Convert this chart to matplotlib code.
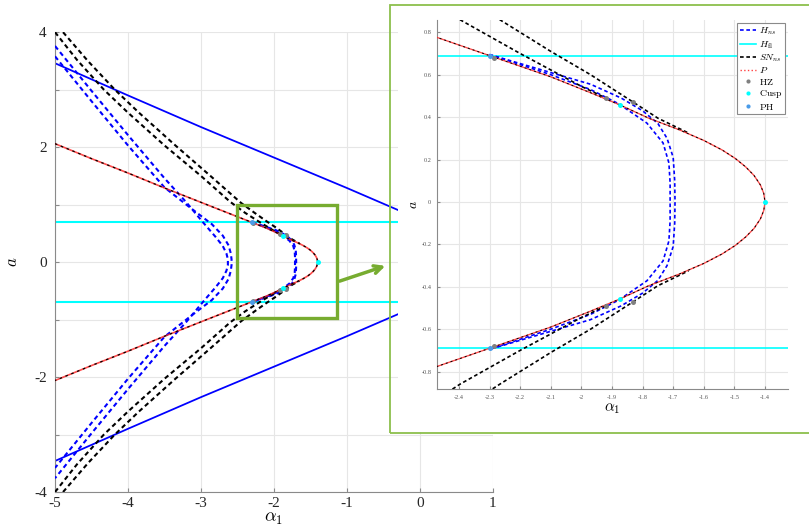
import matplotlib.pyplot as plt
from matplotlib.patches import Rectangle
from matplotlib.lines import Line2D

plt.rcParams['font.family'] = ['Liberation Serif', 'DejaVu Serif']
plt.rcParams['mathtext.fontset'] = 'cm'
plt.rcParams['axes.unicode_minus'] = False

# ---- curves (alpha_1, a) ----
# P curve (goes round the vertex at alpha_1 = -1.4)
p_alpha = [-5.0, -4.5, -4.0, -3.5, -3.0, -2.5, -2.3, -2.1, -1.97, -1.875, -1.78, -1.68,
           -1.60, -1.54, -1.497, -1.463, -1.436, -1.415, -1.404, -1.40,
           -1.404, -1.415, -1.436, -1.463, -1.497, -1.54, -1.60, -1.68, -1.78, -1.875,
           -1.97, -2.1, -2.3, -2.5, -3.0, -3.5, -4.0, -4.5, -5.0]
p_a = [2.06, 1.80, 1.55, 1.29, 1.04, 0.79, 0.69, 0.59, 0.515, 0.458, 0.395, 0.34,
       0.29, 0.245, 0.205, 0.165, 0.125, 0.08, 0.04, 0.0,
       -0.04, -0.08, -0.125, -0.165, -0.205, -0.245, -0.29, -0.34, -0.395, -0.458,
       -0.515, -0.59, -0.69, -0.79, -1.04, -1.29, -1.55, -1.80, -2.06]

# SN_ns tangent branches (upper and lower)
sn_a_alpha = [-5.0, -4.7, -4.33, -4.0, -3.5, -3.0, -2.6, -2.395, -2.2, -2.0, -1.92]
sn_a_up = [4.0, 3.52, 3.0, 2.6, 2.03, 1.5, 1.05, 0.858, 0.70, 0.545, 0.49]
sn_a_lo = [-4.0, -3.52, -3.0, -2.6, -2.03, -1.5, -1.05, -0.858, -0.70, -0.545, -0.49]
sn_b_alpha = [-4.89, -4.55, -4.18, -3.85, -3.35, -2.87, -2.45, -2.265, -2.1, -1.97, -1.83, -1.75, -1.65]
sn_b_up = [4.0, 3.5, 3.0, 2.6, 2.03, 1.5, 1.03, 0.858, 0.71, 0.60, 0.47, 0.395, 0.325]
sn_b_lo = [-4.0, -3.5, -3.0, -2.6, -2.03, -1.5, -1.03, -0.858, -0.71, -0.60, -0.47, -0.395, -0.325]

# H_ns outer branches
h1_alpha = [-5.0, -4.5, -4.0, -3.5, -3.2, -2.97, -2.80, -2.70, -2.65, -2.63, -2.63,
            -2.63, -2.65, -2.70, -2.80, -2.97, -3.2, -3.5, -4.0, -4.5, -5.0]
h1_a = [3.76, 2.98, 2.21, 1.46, 1.04, 0.69, 0.44, 0.28, 0.15, 0.05, 0.0,
        -0.05, -0.15, -0.28, -0.44, -0.69, -1.04, -1.46, -2.21, -2.98, -3.76]
h2_alpha = [-5.0, -4.5, -4.0, -3.5, -3.15, -2.85, -2.70, -2.62, -2.59, -2.58, -2.58,
            -2.58, -2.59, -2.62, -2.70, -2.85, -3.15, -3.5, -4.0, -4.5, -5.0]
h2_a = [3.58, 2.80, 2.03, 1.30, 0.95, 0.66, 0.46, 0.29, 0.15, 0.05, 0.0,
        -0.05, -0.15, -0.29, -0.46, -0.66, -0.95, -1.30, -2.03, -2.80, -3.58]

# H_ns inner branches
h3_alpha = [-2.30, -2.1, -1.97, -1.877, -1.786, -1.733, -1.714, -1.71, -1.71,
            -1.71, -1.714, -1.733, -1.786, -1.877, -1.97, -2.1, -2.30]
h3_a = [0.695, 0.60, 0.53, 0.462, 0.372, 0.278, 0.184, 0.09, 0.0,
        -0.09, -0.184, -0.278, -0.372, -0.462, -0.53, -0.60, -0.695]
h4_alpha = [-2.30, -2.1, -1.97, -1.87, -1.80, -1.75, -1.72, -1.70, -1.695, -1.694,
            -1.695, -1.70, -1.72, -1.75, -1.80, -1.87, -1.97, -2.1, -2.30]
h4_a = [0.695, 0.61, 0.555, 0.49, 0.43, 0.37, 0.30, 0.21, 0.10, 0.0,
        -0.10, -0.21, -0.30, -0.37, -0.43, -0.49, -0.555, -0.61, -0.695]

# H_fl lines
hfl_a = [0.69, -0.69]
# blue solid lines
bs_alpha = [-5.0, -4.0, -3.0, -2.0, -1.0, -0.25]
bs_up = [3.46, 2.90, 2.35, 1.82, 1.29, 0.88]
bs_lo = [-3.46, -2.90, -2.35, -1.82, -1.29, -0.88]

# special points
hz_alpha = [-2.285, -1.92, -1.83, -2.285, -1.92, -1.83]
hz_a = [0.68, 0.49, 0.47, -0.68, -0.49, -0.47]
cusp_alpha = [-1.875, -1.875, -1.40]
cusp_a = [0.458, -0.458, 0.0]
ph_alpha = [-2.30, -2.30]
ph_a = [0.69, -0.69]

green = '#77AC30'
ph_col = '#4a9be8'
dash = (2.2, 1.6)


def draw_curves(ax, lw):
    for y in [bs_up, bs_lo]:
        ax.plot(bs_alpha, y, color='#0000ff', lw=lw * 0.85, zorder=2)
    for y in hfl_a:
        ax.axhline(y, color='#00ffff', lw=lw, zorder=2)
    for xs, ys in [(h1_alpha, h1_a), (h2_alpha, h2_a), (h3_alpha, h3_a), (h4_alpha, h4_a)]:
        ax.plot(xs, ys, color='#0000ff', lw=lw, ls=(0, dash), zorder=3)
    for xs, ys in [(sn_a_alpha, sn_a_up), (sn_a_alpha, sn_a_lo),
                   (sn_b_alpha, sn_b_up), (sn_b_alpha, sn_b_lo)]:
        ax.plot(xs, ys, color='black', lw=lw, ls=(0, dash), zorder=3)
    ax.plot(p_alpha, p_a, color='#ff2020', lw=lw * 0.8, ls='-', alpha=0.8, zorder=4)
    ax.plot(p_alpha, p_a, color='black', lw=lw * 0.6, ls=(0, (2, 3)), zorder=4)
    ax.plot(hz_alpha, hz_a, 'o', color='#808080', ms=3.6, mec='none', zorder=5)
    ax.plot(cusp_alpha, cusp_a, 'o', color='#00ffff', ms=3.6, mec='none', zorder=6)
    ax.plot(ph_alpha, ph_a, 'o', color=ph_col, ms=3.6, mec='none', zorder=5)


def style(ax, tick_size):
    for s in ['top', 'right']:
        ax.spines[s].set_visible(False)
    for s in ['left', 'bottom']:
        ax.spines[s].set_color('#8a8a8a')
    ax.grid(True, color='#e6e6e6', lw=0.8)
    ax.set_axisbelow(True)
    ax.tick_params(direction='in', colors='#8a8a8a', labelcolor='#262626',
                   labelsize=tick_size, length=3)


fig = plt.figure(figsize=(8.09, 5.31), dpi=100)

# main axes
ax = fig.add_axes([0.068, 0.0734, 0.541, 0.866])
draw_curves(ax, 1.5)
ax.set_xlim(-5, 1)
ax.set_ylim(-4, 4)
ax.set_xticks(range(-5, 2))
ax.set_yticks(range(-4, 5))
ax.set_yticklabels([str(v) if v % 2 == 0 else '' for v in range(-4, 5)])
style(ax, 11)
ax.tick_params(axis='y', pad=6)
ax.set_xlabel(r'$\alpha_1$', fontsize=13, labelpad=0)
ax.set_ylabel(r'$a$', fontsize=12, labelpad=9)
ax.add_patch(Rectangle((-2.51, -0.97), 1.37, 1.96, fill=False,
                       edgecolor=green, lw=2.4, zorder=7))
ax.annotate('', xy=(388 / 809, 1 - 265 / 531), xytext=(337 / 809, 1 - 282 / 531),
            xycoords='figure fraction', textcoords='figure fraction',
            arrowprops=dict(arrowstyle='->', color=green, lw=2.5, mutation_scale=14),
            annotation_clip=False, zorder=8)

# white panel and border of the zoomed view
fig.patches.append(Rectangle((398 / 809, 99 / 531), 411 / 809, 426 / 531,
                             transform=fig.transFigure, facecolor='white',
                             edgecolor='none', zorder=1))
fig.patches.append(Rectangle((390 / 809, 98 / 531), 0.53, 428 / 531,
                             transform=fig.transFigure, facecolor='none',
                             edgecolor='#8cbf4c', lw=1.3, zorder=1.5))

# zoomed axes
ax2 = fig.add_axes([0.540, 0.2674, 0.434, 0.695], zorder=3)
draw_curves(ax2, 1.2)
ax2.set_xlim(-2.472, -1.325)
ax2.set_ylim(-0.882, 0.858)
ax2.set_xticks([-2.4, -2.3, -2.2, -2.1, -2.0, -1.9, -1.8, -1.7, -1.6, -1.5, -1.4])
ax2.set_xticklabels(['-2.4', '-2.3', '-2.2', '-2.1', '-2', '-1.9', '-1.8', '-1.7',
                     '-1.6', '-1.5', '-1.4'])
ax2.set_yticks([-0.8, -0.6, -0.4, -0.2, 0, 0.2, 0.4, 0.6, 0.8])
ax2.set_yticklabels(['-0.8', '-0.6', '-0.4', '-0.2', '0', '0.2', '0.4', '0.6', '0.8'])
style(ax2, 4.5)
ax2.tick_params(labelcolor='#555555', length=2, pad=4)
ax2.set_xlabel(r'$\alpha_1$', fontsize=11, labelpad=1)
ax2.set_ylabel(r'$a$', fontsize=10, labelpad=1)

handles = [
    Line2D([], [], color='#0000ff', lw=1.2, ls=(0, dash)),
    Line2D([], [], color='#00ffff', lw=1.2),
    Line2D([], [], color='black', lw=1.2, ls=(0, dash)),
    Line2D([], [], color='#ff4040', lw=1.0, ls=':'),
    Line2D([], [], color='#808080', marker='o', ms=3, ls='none', mec='none'),
    Line2D([], [], color='#00ffff', marker='o', ms=3, ls='none', mec='none'),
    Line2D([], [], color=ph_col, marker='o', ms=3, ls='none', mec='none'),
]
labels = [r'$H_{ns}$', r'$H_{\rm fl}$', r'$SN_{ns}$', r'$P$',
          r'$\mathrm{HZ}$', r'$\mathrm{Cusp}$', r'$\mathrm{PH}$']
leg = ax2.legend(handles, labels, loc='upper right', fontsize=7, handlelength=1.6,
                 handletextpad=0.3, labelspacing=0.15, borderpad=0.3,
                 borderaxespad=0.3, fancybox=False, framealpha=1)
leg.get_frame().set_edgecolor('#8a8a8a')
leg.get_frame().set_linewidth(0.8)

fig.savefig('out.png', dpi=100)
